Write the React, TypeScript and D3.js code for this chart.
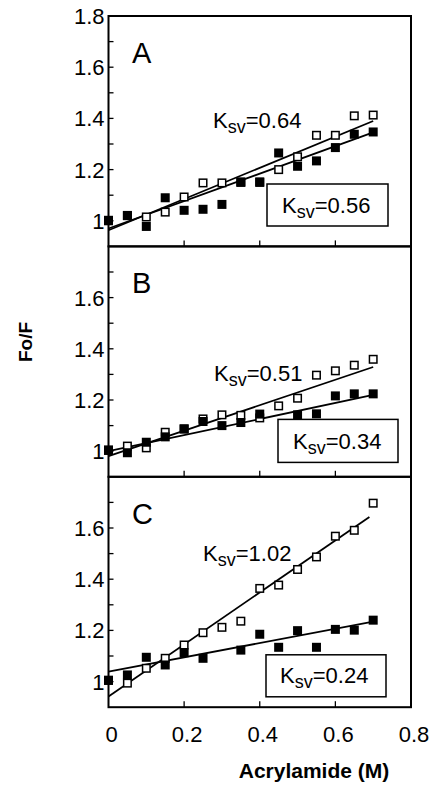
import React from "react";
import * as d3 from "d3";

// ---- data ----
const concentrations = [0, 0.05, 0.1, 0.15, 0.2, 0.25, 0.3, 0.35, 0.4, 0.45, 0.5, 0.55, 0.6, 0.65, 0.7];
const panelLabels = ["A", "B", "C"];

const openA = [1.0, 1.02, 1.015, 1.034, 1.093, 1.148, 1.148, 1.15, 1.15, 1.2, 1.25, 1.334, 1.334, 1.41, 1.413];
const filledA = [1.002, 1.021, 0.978, 1.09, 1.041, 1.045, 1.064, 1.152, 1.152, 1.265, 1.213, 1.234, 1.286, 1.338, 1.347];
const openB = [1.003, 1.02, 1.013, 1.074, 1.087, 1.126, 1.142, 1.14, 1.13, 1.177, 1.207, 1.297, 1.314, 1.336, 1.359];
const filledB = [1.005, 0.994, 1.035, 1.056, 1.087, 1.116, 1.1, 1.112, 1.145, null, 1.142, 1.146, 1.216, 1.224, 1.224];
const openC = [1.005, 0.994, 1.052, 1.091, 1.143, 1.191, 1.212, 1.236, 1.364, 1.377, 1.438, 1.487, 1.568, 1.591, 1.697];
const filledC = [1.005, 1.026, 1.095, 1.065, 1.113, 1.091, null, 1.123, 1.185, 1.134, 1.199, 1.134, 1.204, 1.201, 1.24];

const openSeries = [openA, openB, openC];
const filledSeries = [filledA, filledB, filledC];

// linear fits (intercept, slope)
const openIntercepts = [0.963, 0.981, 0.942];
const openSlopes = [0.61, 0.497, 1.016];
const openFitEnd = [0.7, 0.7, 0.69];
const filledIntercepts = [0.97, 1.0, 1.039];
const filledSlopes = [0.536, 0.314, 0.279];
const filledFitEnd = [0.7, 0.7, 0.7];

const openKsv = ["0.64", "0.51", "1.02"];
const filledKsv = ["0.56", "0.34", "0.24"];

const yTickLabelsA = [1, 1.2, 1.4, 1.6, 1.8];
const yTickLabelsBC = [1, 1.2, 1.4, 1.6];
const yMinorTicks = [1.1, 1.3, 1.5, 1.7];
const xTickLabels = [0, 0.2, 0.4, 0.6, 0.8];
const xInnerTicks = [0.2, 0.4, 0.6];

const yLabel = "Fo/F";
const xLabel = "Acrylamide (M)";

// ---- layout ----
const W = 433;
const H = 785;
const left = 108.5;
const right = 411;
const panelTop0 = 16;
const panelH = 230.4;
const FONT = "'Liberation Sans', Arial, sans-serif";

const annot = [
  { tx: 213, ty: 112, bx: 267, by: 168, bw: 121, bh: 42, btx: 282, bty: 197 },
  { tx: 214, ty: 135, bx: 278, by: 173, bw: 120, bh: 43, btx: 293, bty: 203 },
  { tx: 203, ty: 84, bx: 266, by: 178, bw: 120, bh: 42, btx: 280, bty: 206 },
];

const x = d3.scaleLinear().domain([0, 0.8]).range([left, right]);

function Ksv({ xPos, yPos, value }: { xPos: number; yPos: number; value: string }) {
  return (
    <text x={xPos} y={yPos} fontFamily={FONT} fontSize={22} fill="#000">
      K
      <tspan fontSize={18} dy={5}>sv</tspan>
      <tspan dy={-5}>={value}</tspan>
    </text>
  );
}

function Panel({ i }: { i: number }) {
  const top = panelTop0 + i * panelH;
  const bottom = top + panelH;
  const y = d3.scaleLinear().domain([0.9, 1.8]).range([bottom, top]);
  const labels = i === 0 ? yTickLabelsA : yTickLabelsBC;
  const line = d3
    .line<number>()
    .x((d) => x(d))
    .y((d) => y(d));
  const openFit = (xv: number) => openIntercepts[i] + openSlopes[i] * xv;
  const filledFit = (xv: number) => filledIntercepts[i] + filledSlopes[i] * xv;
  const ms = 9;
  const a = annot[i];
  return (
    <g>
      {/* regression lines */}
      <path
        d={
          d3
            .line<number>()
            .x((d) => x(d))
            .y((d) => y(openFit(d)))([0, openFitEnd[i]]) || ""
        }
        stroke="#000"
        strokeWidth={1.8}
        fill="none"
      />
      <path
        d={
          d3
            .line<number>()
            .x((d) => x(d))
            .y((d) => y(filledFit(d)))([0, filledFitEnd[i]]) || ""
        }
        stroke="#000"
        strokeWidth={1.8}
        fill="none"
      />
      {/* open squares */}
      {openSeries[i].map((v, k) =>
        v == null ? null : (
          <rect
            key={"o" + k}
            x={x(concentrations[k]) - ms / 2 + 0.75}
            y={y(v) - ms / 2 + 0.75}
            width={ms - 1.5}
            height={ms - 1.5}
            fill="#fff"
            stroke="#000"
            strokeWidth={1.5}
          />
        )
      )}
      {/* filled squares */}
      {filledSeries[i].map((v, k) =>
        v == null ? null : (
          <rect
            key={"f" + k}
            x={x(concentrations[k]) - ms / 2}
            y={y(v as number) - ms / 2}
            width={ms}
            height={ms}
            fill="#000"
          />
        )
      )}
      {/* frame */}
      <rect x={left} y={top} width={right - left} height={panelH} fill="none" stroke="#000" strokeWidth={2} />
      {/* y ticks */}
      {[...labels, ...yMinorTicks].map((t) => (
        <line key={"yt" + t} x1={left} x2={left + 5} y1={y(t)} y2={y(t)} stroke="#000" strokeWidth={1.3} />
      ))}
      {labels.map((t) => (
        <text
          key={"yl" + t}
          x={left - 4}
          y={y(t)}
          dy="0.36em"
          textAnchor="end"
          fontFamily={FONT}
          fontSize={22}
          fill="#000"
        >
          {d3.format("~g")(t)}
        </text>
      ))}
      {/* x ticks (inward, bottom) */}
      {xInnerTicks.map((t) => (
        <line key={"xt" + t} x1={x(t)} x2={x(t)} y1={bottom} y2={bottom - 6} stroke="#000" strokeWidth={1.3} />
      ))}
      {/* panel letter */}
      <text x={132} y={top + 47} fontFamily={FONT} fontSize={29} fill="#000">
        {panelLabels[i]}
      </text>
      {/* annotations */}
      <Ksv xPos={a.tx} yPos={top + a.ty} value={openKsv[i]} />
      <rect x={a.bx} y={top + a.by} width={a.bw} height={a.bh} fill="#fff" stroke="#000" strokeWidth={1.5} />
      <Ksv xPos={a.btx} yPos={top + a.bty} value={filledKsv[i]} />
    </g>
  );
}

export default function App() {
  const bottom = panelTop0 + 3 * panelH;
  return (
    <svg
      width={W}
      height={H}
      viewBox={`0 0 ${W} ${H}`}
      style={{ position: "absolute", left: 0, top: 0, background: "#fff" }}
    >
      <rect x={0} y={0} width={W} height={H} fill="#fff" />
      {[0, 1, 2].map((i) => (
        <Panel key={i} i={i} />
      ))}
      {xTickLabels.map((t) => (
        <text
          key={"xl" + t}
          x={x(t) + 3}
          y={bottom + 35}
          textAnchor="middle"
          fontFamily={FONT}
          fontSize={22}
          fill="#000"
        >
          {d3.format("~g")(t)}
        </text>
      ))}
      <text
        x={314}
        y={778}
        textAnchor="middle"
        fontFamily={FONT}
        fontSize={21}
        fontWeight="bold"
        fill="#000"
      >
        {xLabel}
      </text>
      <text
        transform="translate(32,342) rotate(-90)"
        textAnchor="middle"
        fontFamily={FONT}
        fontSize={19}
        fontWeight="bold"
        fill="#000"
      >
        {yLabel}
      </text>
    </svg>
  );
}
